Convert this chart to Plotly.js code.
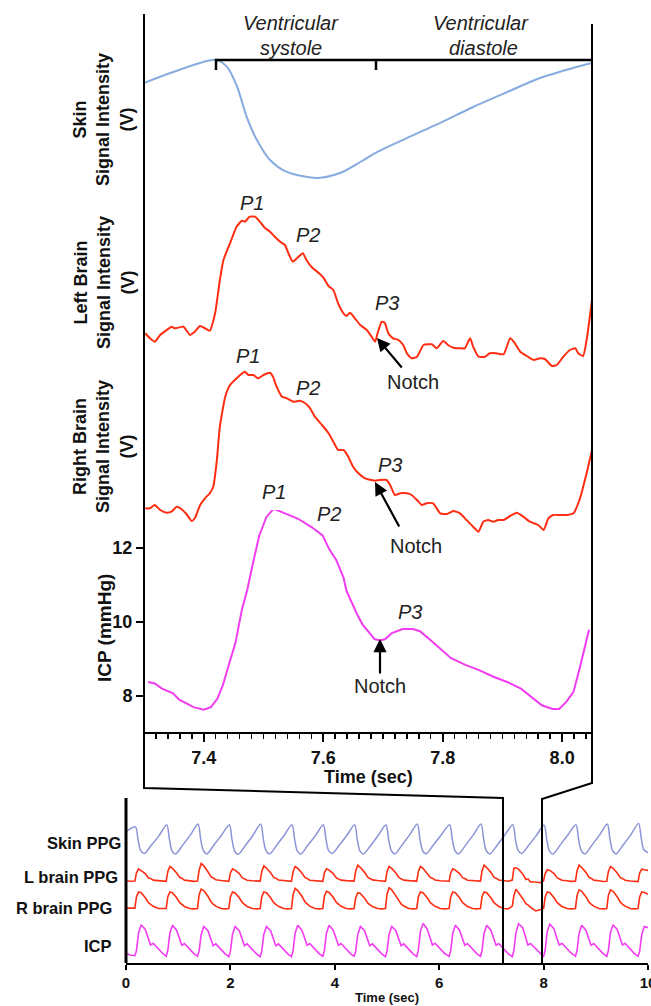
<!DOCTYPE html>
<html>
<head>
<meta charset="utf-8">
<script src="https://cdn.plot.ly/plotly-3.0.1.min.js"></script>
<style>html,body{margin:0;padding:0;background:#fff;}#chart{width:651px;height:1006px;}</style>
</head>
<body>
<div id="chart"></div>
<script>
// ---------- Zoomed panel (one cardiac cycle), time in seconds ----------
const skinTime = [7.300,7.349,7.421,7.439,7.456,7.472,7.489,7.511,7.539,7.590,7.628,7.662,7.690,7.740,7.796,7.851,7.908,7.963,8.018,8.050];
const skinSignal = [0.764,0.843,0.929,0.879,0.736,0.521,0.357,0.214,0.129,0.086,0.121,0.200,0.271,0.371,0.479,0.593,0.700,0.800,0.871,0.907];

const leftTime = [7.302,7.310,7.318,7.327,7.338,7.346,7.352,7.366,7.377,7.385,7.394,7.402,7.410,7.419,7.427,7.433,7.444,7.455,7.464,7.469,7.477,7.486,7.494,7.503,7.511,7.519,7.528,7.536,7.543,7.549,7.556,7.566,7.572,7.581,7.592,7.600,7.609,7.617,7.625,7.634,7.639,7.645,7.653,7.662,7.673,7.681,7.687,7.691,7.698,7.703,7.709,7.717,7.726,7.734,7.740,7.748,7.757,7.768,7.782,7.790,7.801,7.809,7.818,7.829,7.837,7.846,7.851,7.860,7.871,7.879,7.890,7.902,7.913,7.921,7.930,7.941,7.952,7.963,7.971,7.983,7.991,8.002,8.013,8.022,8.027,8.035,8.041,8.050];
const leftSignal = [0.467,0.417,0.383,0.450,0.500,0.533,0.517,0.533,0.450,0.483,0.540,0.517,0.493,0.667,1.000,1.200,1.367,1.533,1.593,1.583,1.633,1.633,1.583,1.517,1.483,1.433,1.383,1.350,1.250,1.183,1.217,1.267,1.200,1.127,1.073,1.027,0.940,0.900,0.767,0.667,0.640,0.673,0.617,0.550,0.500,0.433,0.383,0.467,0.583,0.573,0.467,0.417,0.400,0.350,0.267,0.217,0.233,0.350,0.357,0.317,0.390,0.350,0.323,0.317,0.317,0.417,0.333,0.233,0.233,0.267,0.267,0.257,0.417,0.367,0.283,0.240,0.200,0.217,0.210,0.140,0.150,0.233,0.300,0.317,0.267,0.240,0.400,0.800];

const rightTime = [7.302,7.310,7.318,7.327,7.338,7.346,7.355,7.363,7.371,7.380,7.385,7.394,7.402,7.410,7.416,7.422,7.427,7.436,7.444,7.452,7.461,7.469,7.475,7.483,7.491,7.500,7.511,7.516,7.522,7.531,7.539,7.550,7.561,7.570,7.578,7.586,7.598,7.609,7.617,7.625,7.634,7.642,7.650,7.659,7.670,7.681,7.687,7.695,7.706,7.712,7.720,7.729,7.740,7.748,7.757,7.765,7.773,7.784,7.796,7.807,7.818,7.829,7.840,7.851,7.860,7.868,7.876,7.885,7.893,7.902,7.913,7.924,7.935,7.946,7.960,7.969,7.977,7.985,7.996,8.008,8.019,8.029,8.041,8.050];
const rightSignal = [0.317,0.317,0.350,0.300,0.273,0.283,0.333,0.307,0.260,0.190,0.217,0.350,0.417,0.467,0.533,0.800,1.133,1.433,1.550,1.600,1.650,1.683,1.650,1.650,1.617,1.650,1.673,1.633,1.533,1.433,1.417,1.383,1.393,1.367,1.317,1.233,1.150,1.067,0.983,0.900,0.900,0.833,0.733,0.667,0.617,0.600,0.593,0.600,0.600,0.550,0.450,0.467,0.467,0.450,0.400,0.350,0.367,0.367,0.267,0.260,0.290,0.267,0.200,0.133,0.083,0.183,0.200,0.183,0.200,0.200,0.240,0.273,0.233,0.183,0.150,0.100,0.217,0.250,0.250,0.250,0.267,0.400,0.667,0.900];

const icpTime = [7.307,7.318,7.330,7.348,7.359,7.383,7.400,7.412,7.423,7.432,7.441,7.453,7.464,7.473,7.482,7.493,7.505,7.517,7.534,7.558,7.581,7.599,7.610,7.622,7.634,7.639,7.648,7.657,7.666,7.677,7.686,7.695,7.704,7.715,7.733,7.750,7.762,7.779,7.797,7.814,7.838,7.861,7.885,7.908,7.931,7.949,7.966,7.984,7.995,8.007,8.019,8.030,8.039,8.045];
const icpValue = [8.38,8.34,8.20,8.08,7.90,7.70,7.63,7.70,7.93,8.29,8.79,9.43,10.34,10.88,11.56,12.34,12.84,13.06,12.95,12.79,12.56,12.34,11.97,11.67,11.20,10.84,10.52,10.20,9.93,9.70,9.54,9.50,9.54,9.70,9.81,9.81,9.75,9.52,9.25,9.02,8.84,8.70,8.52,8.38,8.20,7.97,7.75,7.65,7.65,7.84,8.11,8.79,9.43,9.79];

// ---------- Overview panel (0-10 s) ----------
const ovSkinTime = [0,0.18,0.23,0.28,0.35,0.48,0.63,0.78,0.83,0.88,0.95,1.08,1.23,1.38,1.43,1.48,1.55,1.68,1.83,1.98,2.03,2.08,2.15,2.28,2.43,2.58,2.63,2.68,2.75,2.88,3.03,3.18,3.23,3.28,3.35,3.48,3.63,3.78,3.83,3.88,3.95,4.08,4.23,4.38,4.43,4.48,4.55,4.68,4.83,4.98,5.03,5.08,5.15,5.28,5.43,5.58,5.63,5.68,5.75,5.88,6.03,6.20,6.25,6.30,6.37,6.50,6.65,6.80,6.85,6.90,6.97,7.10,7.25,7.41,7.46,7.51,7.58,7.71,7.86,8.01,8.06,8.11,8.18,8.31,8.46,8.62,8.67,8.72,8.79,8.92,9.07,9.22,9.27,9.32,9.39,9.52,9.67,9.82,9.87,9.92,10.0];
const ovSkin = [0.72,0.86,0.50,0.18,0.09,0.32,0.60,0.92,0.52,0.17,0.08,0.32,0.62,0.94,0.52,0.18,0.08,0.33,0.62,0.92,0.50,0.17,0.07,0.31,0.61,0.94,0.52,0.18,0.08,0.32,0.62,0.92,0.51,0.17,0.08,0.32,0.61,0.92,0.51,0.18,0.09,0.32,0.61,0.92,0.50,0.17,0.08,0.31,0.61,0.92,0.51,0.18,0.08,0.32,0.62,0.94,0.52,0.18,0.08,0.32,0.61,0.92,0.51,0.18,0.08,0.32,0.62,0.94,0.52,0.18,0.08,0.31,0.61,0.92,0.50,0.18,0.09,0.32,0.61,0.91,0.50,0.17,0.08,0.32,0.62,0.92,0.51,0.18,0.08,0.32,0.62,0.94,0.52,0.18,0.08,0.33,0.63,0.96,0.54,0.20,0.12];

const ovBeatTime = [0,0.08,
0.17,0.20,0.24,0.29,0.37,0.43,0.47,0.52,0.62,0.70,
0.77,0.80,0.84,0.89,0.97,1.03,1.07,1.12,1.22,1.30,
1.37,1.40,1.44,1.49,1.57,1.63,1.67,1.72,1.82,1.90,
1.97,2.00,2.04,2.09,2.17,2.23,2.27,2.32,2.42,2.50,
2.57,2.60,2.64,2.69,2.77,2.83,2.87,2.92,3.02,3.10,
3.17,3.20,3.24,3.29,3.37,3.43,3.47,3.52,3.62,3.70,
3.77,3.80,3.84,3.89,3.97,4.03,4.07,4.12,4.22,4.30,
4.37,4.40,4.44,4.49,4.57,4.63,4.67,4.72,4.82,4.90,
4.97,5.00,5.04,5.09,5.17,5.23,5.27,5.32,5.42,5.50,
5.57,5.60,5.64,5.69,5.77,5.83,5.87,5.92,6.02,6.10,
6.19,6.22,6.26,6.31,6.39,6.45,6.49,6.54,6.64,6.72,
6.79,6.82,6.86,6.91,6.99,7.05,7.09,7.14,7.24,7.32,
7.40,7.43,7.47,7.52,7.60,7.66,7.70,7.75,7.85,7.93,
8.00,8.03,8.07,8.12,8.20,8.26,8.30,8.35,8.45,8.53,
8.61,8.64,8.68,8.73,8.81,8.87,8.91,8.96,9.06,9.14,
9.21,9.24,9.28,9.33,9.41,9.47,9.51,9.56,9.66,9.74,
9.81,9.84,9.88,9.93,10.0];

const ovLeft = [0.40,0.36,
0.38,1.00,1.32,1.20,0.95,0.62,0.58,0.45,0.42,0.36,
0.36,1.10,1.50,1.35,1.00,0.65,0.60,0.45,0.40,0.35,
0.38,1.20,1.74,1.55,1.10,0.70,0.62,0.48,0.42,0.38,
0.36,1.00,1.32,1.22,0.95,0.62,0.56,0.44,0.40,0.36,
0.37,1.10,1.55,1.38,1.02,0.66,0.60,0.46,0.41,0.37,
0.36,1.10,1.50,1.35,1.00,0.64,0.58,0.44,0.40,0.35,
0.36,1.00,1.32,1.22,0.96,0.62,0.56,0.45,0.41,0.36,
0.37,1.15,1.60,1.42,1.05,0.68,0.60,0.47,0.42,0.37,
0.36,1.10,1.50,1.35,1.00,0.64,0.58,0.45,0.41,0.36,
0.37,1.10,1.50,1.36,1.00,0.65,0.60,0.46,0.40,0.36,
0.36,1.00,1.32,1.22,0.95,0.62,0.57,0.44,0.40,0.35,
0.37,1.15,1.60,1.42,1.05,0.66,0.60,0.46,0.41,0.36,
0.45,1.37,1.40,1.30,0.93,0.50,0.55,0.30,0.30,0.25,
0.40,0.95,1.25,1.20,0.95,0.62,0.56,0.44,0.40,0.35,
0.36,1.15,1.60,1.42,1.05,0.66,0.60,0.45,0.40,0.34,
0.36,1.10,1.50,1.36,1.00,0.64,0.58,0.44,0.38,0.33,
0.34,1.00,1.30,1.25,1.20];

const ovRight = [0.32,0.30,
0.32,1.10,1.45,1.40,1.05,0.70,0.58,0.45,0.30,0.28,
0.30,1.10,1.45,1.40,1.05,0.70,0.58,0.44,0.30,0.27,
0.30,1.25,1.65,1.55,1.15,0.75,0.60,0.46,0.30,0.27,
0.30,1.10,1.45,1.38,1.05,0.70,0.58,0.44,0.30,0.27,
0.30,1.10,1.45,1.40,1.05,0.70,0.58,0.45,0.30,0.27,
0.30,1.25,1.70,1.55,1.15,0.75,0.62,0.46,0.30,0.27,
0.30,1.15,1.50,1.42,1.08,0.72,0.60,0.45,0.30,0.27,
0.30,1.05,1.40,1.35,1.02,0.68,0.56,0.44,0.30,0.27,
0.30,1.30,1.75,1.60,1.18,0.78,0.62,0.47,0.30,0.27,
0.30,1.10,1.45,1.40,1.05,0.70,0.58,0.45,0.30,0.27,
0.30,1.10,1.45,1.40,1.05,0.70,0.58,0.44,0.30,0.27,
0.30,1.10,1.45,1.40,1.05,0.70,0.58,0.44,0.30,0.27,
0.46,1.20,1.65,1.42,1.00,0.63,0.55,0.38,0.12,0.20,
0.30,1.10,1.45,1.40,1.05,0.70,0.58,0.44,0.30,0.27,
0.30,1.20,1.60,1.50,1.12,0.74,0.60,0.46,0.30,0.27,
0.30,1.20,1.60,1.50,1.12,0.74,0.60,0.46,0.30,0.27,
0.30,1.10,1.45,1.42,1.30];

const ovIcp = [8.20,7.90,
7.80,8.60,11.50,12.90,12.10,10.50,9.55,9.85,8.90,8.20,
7.70,8.60,11.50,12.80,12.00,10.40,9.50,9.80,8.85,8.15,
7.70,8.50,11.30,12.60,11.90,10.30,9.45,9.75,8.80,8.10,
7.65,8.50,11.30,12.60,11.90,10.30,9.45,9.75,8.80,8.10,
7.65,8.50,11.30,12.60,11.90,10.30,9.45,9.75,8.80,8.10,
7.65,8.60,11.50,12.80,12.00,10.40,9.50,9.80,8.85,8.15,
7.70,8.60,11.50,12.80,12.00,10.40,9.50,9.80,8.85,8.15,
7.70,8.50,11.30,12.60,11.90,10.30,9.45,9.75,8.80,8.10,
7.65,8.50,11.30,12.60,11.90,10.30,9.45,9.75,8.80,8.10,
7.65,8.70,11.80,13.10,12.20,10.50,9.55,9.85,8.90,8.20,
7.70,8.60,11.50,12.80,12.00,10.40,9.50,9.80,8.85,8.15,
7.70,8.60,11.50,12.80,12.00,10.40,9.50,9.80,8.85,8.15,
7.63,8.60,11.56,13.06,12.40,10.60,9.54,9.81,8.90,8.20,
7.65,8.70,11.80,13.00,12.20,10.50,9.55,9.85,8.90,8.20,
7.70,8.60,11.50,12.80,12.00,10.40,9.50,9.80,8.85,8.15,
7.70,8.60,11.60,12.90,12.10,10.50,9.55,9.85,8.85,8.15,
7.70,8.50,11.30,12.60,12.40];

// ---------- Layout helpers (pixel -> paper) ----------
const W = 651, H = 1006;
const X = px => px / W;
const Y = py => 1 - py / H;
const FONT = 'Liberation Sans, Arial, Helvetica, sans-serif';
const RED = '#ff2d12', MAG = '#f23cf2', SKIN = '#86acdf', SKIN2 = '#8c94d8';

const traces = [
  {x: skinTime, y: skinSignal, xaxis: 'x', yaxis: 'y', mode: 'lines', line: {color: SKIN, width: 2, shape: 'spline', smoothing: 0.8}},
  {x: leftTime, y: leftSignal, xaxis: 'x', yaxis: 'y2', mode: 'lines', line: {color: RED, width: 2, shape: 'spline', smoothing: 0.5}},
  {x: rightTime, y: rightSignal, xaxis: 'x', yaxis: 'y3', mode: 'lines', line: {color: RED, width: 2, shape: 'spline', smoothing: 0.5}},
  {x: icpTime, y: icpValue, xaxis: 'x', yaxis: 'y4', mode: 'lines', line: {color: MAG, width: 2}},
  {x: ovSkinTime, y: ovSkin, xaxis: 'x2', yaxis: 'y5', mode: 'lines', line: {color: SKIN2, width: 1.5, shape: 'spline', smoothing: 0.8}},
  {x: ovBeatTime, y: ovLeft, xaxis: 'x2', yaxis: 'y6', mode: 'lines', line: {color: RED, width: 1.6}},
  {x: ovBeatTime, y: ovRight, xaxis: 'x2', yaxis: 'y7', mode: 'lines', line: {color: RED, width: 1.6}},
  {x: ovBeatTime, y: ovIcp, xaxis: 'x2', yaxis: 'y8', mode: 'lines', line: {color: MAG, width: 1.6}}
];

const hiddenY = (dom, rng, anchor) => ({domain: dom, range: rng, anchor: anchor, showticklabels: false, ticks: '', showline: false, showgrid: false, zeroline: false, fixedrange: true});

const layout = {
  width: W, height: H, margin: {l: 0, r: 0, t: 0, b: 0},
  paper_bgcolor: '#fff', plot_bgcolor: 'rgba(0,0,0,0)', showlegend: false,
  font: {family: FONT, color: '#000'},
  xaxis: {domain: [X(144), X(592)], range: [7.3, 8.05], anchor: 'y4', showgrid: false, zeroline: false,
    showline: true, linewidth: 2, linecolor: '#000', ticks: 'outside', ticklen: 8, tickwidth: 2, tickcolor: '#000',
    tick0: 7.4, dtick: 0.2, tickformat: '.1f', tickfont: {family: FONT, size: 18, weight: 'bold', color: '#111'},
    minor: {ticks: 'outside', tick0: 7.4, dtick: 0.02, ticklen: 5, tickwidth: 1.5, tickcolor: '#000', showgrid: false}},
  yaxis: hiddenY([Y(190), Y(50)], [0, 1], 'x'),
  yaxis2: hiddenY([Y(380), Y(210)], [0, 1.7], 'x'),
  yaxis3: hiddenY([Y(540), Y(370)], [0, 1.7], 'x'),
  yaxis4: {domain: [Y(732), Y(510)], range: [7.027, 13.027], anchor: 'x', showgrid: false, zeroline: false, showline: false,
    tickvals: [8, 10, 12], ticks: 'outside', ticklen: 7, tickwidth: 2, tickcolor: '#000',
    tickfont: {family: FONT, size: 18, weight: 'bold', color: '#111'}},
  xaxis2: {domain: [X(126), X(648)], range: [0, 10], anchor: 'y8', showgrid: false, zeroline: false,
    showline: true, linewidth: 2, linecolor: '#000', ticks: 'outside', ticklen: 5, tickwidth: 2, tickcolor: '#000',
    dtick: 2, tick0: 0, ticklabeloverflow: 'allow', tickfont: {family: FONT, size: 15, weight: 'bold', color: '#111'}},
  yaxis5: hiddenY([Y(856), Y(822)], [0.02, 1.0], 'x2'),
  yaxis6: hiddenY([Y(884), Y(862)], [0.15, 1.85], 'x2'),
  yaxis7: hiddenY([Y(912), Y(887)], [0.05, 1.8], 'x2'),
  yaxis8: hiddenY([Y(963), Y(921)], [6.6, 13.5], 'x2'),
  shapes: [
    {type: 'path', xref: 'paper', yref: 'paper', path: `M${X(144)},${Y(14)} L${X(144)},${Y(788)} L${X(503)},${Y(798)} L${X(503)},${Y(963)}`, line: {color: '#000', width: 2}},
    {type: 'path', xref: 'paper', yref: 'paper', path: `M${X(592)},${Y(24)} L${X(592)},${Y(783)} L${X(542)},${Y(799)} L${X(542)},${Y(963)}`, line: {color: '#000', width: 2}},
    {type: 'line', xref: 'paper', yref: 'paper', x0: X(126), x1: X(126), y0: Y(798), y1: Y(963), line: {color: '#000', width: 3}},
    {type: 'path', xref: 'paper', yref: 'paper', path: `M${X(216)},${Y(70)} L${X(216)},${Y(60)} L${X(592)},${Y(60)}`, line: {color: '#000', width: 2.5}},
    {type: 'line', xref: 'paper', yref: 'paper', x0: X(376), x1: X(376), y0: Y(60), y1: Y(70), line: {color: '#000', width: 2.5}}
  ],
  annotations: []
};

const ann = (text, px, py, opts) => Object.assign({text: text, xref: 'paper', yref: 'paper', x: X(px), y: Y(py), xanchor: 'center', yanchor: 'middle', showarrow: false, font: {family: FONT, size: 20, color: '#222'}}, opts || {});
const it = s => '<i>' + s + '</i>';
const bold = {family: FONT, size: 18, weight: 'bold', color: '#111'};
const rowFont = {family: FONT, size: 16.5, weight: 'bold', color: '#111'};
const arrow = (hx, hy, tx, ty) => ({text: '', xref: 'paper', yref: 'paper', x: X(hx), y: Y(hy), ax: tx - hx, ay: ty - hy, showarrow: true, arrowhead: 2, arrowsize: 1.2, arrowwidth: 2.2, arrowcolor: '#000'});

layout.annotations.push(
  ann(it('Ventricular'), 291, 23), ann(it('systole'), 291, 48),
  ann(it('Ventricular'), 481, 23), ann(it('diastole'), 483, 48),
  ann(it('P1'), 252, 203), ann(it('P2'), 308, 235), ann(it('P3'), 387, 303), ann('Notch', 413, 382),
  ann(it('P1'), 248, 356), ann(it('P2'), 308, 388), ann(it('P3'), 390, 465), ann('Notch', 416, 546),
  ann(it('P1'), 274, 492), ann(it('P2'), 329, 514), ann(it('P3'), 410, 612), ann('Notch', 380, 686),
  arrow(377, 338, 403, 369), arrow(375, 482, 400, 528), arrow(380, 639, 380, 675),
  ann('Skin<br>Signal Intensity<br>(V)', 104, 120, {textangle: -90, font: bold}),
  ann('Left Brain<br>Signal Intensity<br>(V)', 104, 283, {textangle: -90, font: bold}),
  ann('Right Brain<br>Signal Intensity<br>(V)', 104, 447, {textangle: -90, font: bold}),
  ann('ICP (mmHg)', 104, 628, {textangle: -90, font: {family: FONT, size: 19, weight: 'bold', color: '#111'}}),
  ann('Time (sec)', 368, 777, {font: {family: FONT, size: 18, weight: 'bold', color: '#111'}}),
  ann('Time (sec)', 387, 997, {font: {family: FONT, size: 13, weight: 'bold', color: '#111'}}),
  ann('Skin PPG', 123, 843, {xanchor: 'right', font: rowFont}),
  ann('L brain PPG', 120, 877, {xanchor: 'right', font: rowFont}),
  ann('R brain PPG', 114, 908, {xanchor: 'right', font: rowFont}),
  ann('ICP', 114, 946, {xanchor: 'right', font: rowFont})
);

Plotly.newPlot('chart', traces, layout, {staticPlot: true, displayModeBar: false});
</script>
</body>
</html>
